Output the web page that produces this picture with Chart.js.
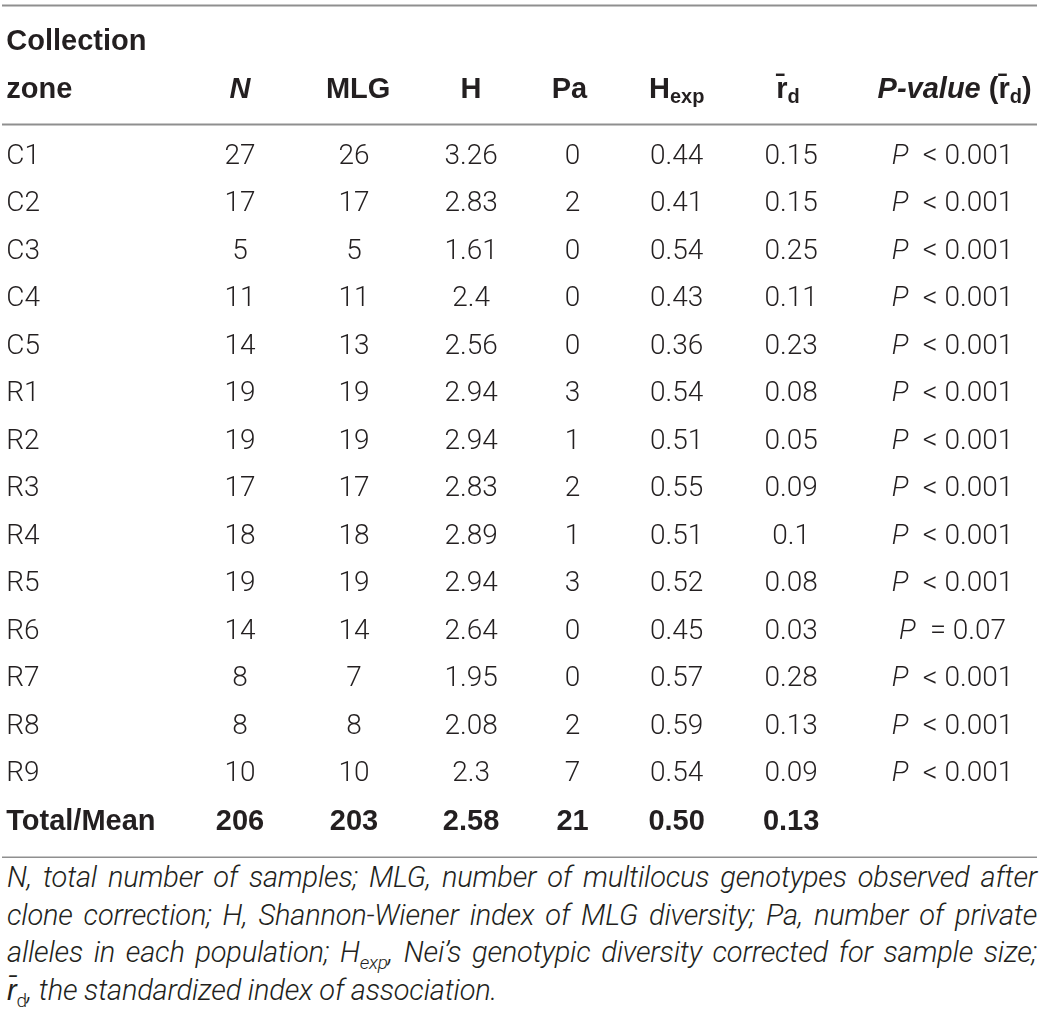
<!DOCTYPE html>
<html>
<head>
<meta charset="utf-8">
<script src="https://cdn.jsdelivr.net/npm/chart.js@4.4.1/dist/chart.umd.min.js"></script>
<style>
  body { margin: 0; background: #fff; }
  #wrap { width: 1041px; position: relative; }
  #note {
    margin: 0; padding: 1px 4px 0 7px;
    font-family: Roboto, "Liberation Sans", sans-serif; font-weight: 300;
    font-style: italic; font-size: 29px; line-height: 37.5px;
    letter-spacing: -0.2px;
    color: #231f20;
  }
  #note span { display: block; white-space: nowrap; text-align: justify; text-align-last: justify; }
  #note span.last { text-align-last: left; }
  #note sub { font-size: 19px; line-height: 0; }
  #note sub.up { font-style: normal; }
</style>
</head>
<body>
<div id="wrap">
  <canvas id="tbl" width="1041" height="858"></canvas>
  <p id="note">
    <span><i>N</i>, total number of samples; MLG, number of multilocus genotypes observed after</span>
    <span>clone correction; H, Shannon-Wiener index of MLG diversity; Pa, number of private</span>
    <span>alleles in each population; H<sub>exp</sub>, Nei’s genotypic diversity corrected for sample size;</span>
    <span class="last">r̄<sub class="up">d</sub>, the standardized index of association.</span>
  </p>
</div>
<script>
// bảng số liệu theo vùng thu mẫu
var zones = ["C1", "C2", "C3", "C4", "C5", "R1", "R2", "R3", "R4", "R5", "R6", "R7", "R8", "R9"];
var nVals = [27, 17, 5, 11, 14, 19, 19, 17, 18, 19, 14, 8, 8, 10];
var mlgVals = [26, 17, 5, 11, 13, 19, 19, 17, 18, 19, 14, 7, 8, 10];
var hVals = [3.26, 2.83, 1.61, 2.4, 2.56, 2.94, 2.94, 2.83, 2.89, 2.94, 2.64, 1.95, 2.08, 2.3];
var paVals = [0, 2, 0, 0, 0, 3, 1, 2, 1, 3, 0, 0, 2, 7];
var hexpVals = [0.44, 0.41, 0.54, 0.43, 0.36, 0.54, 0.51, 0.55, 0.51, 0.52, 0.45, 0.57, 0.59, 0.54];
var rdVals = [0.15, 0.15, 0.25, 0.11, 0.23, 0.08, 0.05, 0.09, 0.1, 0.08, 0.03, 0.28, 0.13, 0.09];
var pSign = ["<", "<", "<", "<", "<", "<", "<", "<", "<", "<", "=", "<", "<", "<"];
var pVals = ["0.001", "0.001", "0.001", "0.001", "0.001", "0.001", "0.001", "0.001", "0.001", "0.001", "0.07", "0.001", "0.001", "0.001"];
var totalRow = ["Total/Mean", "206", "203", "2.58", "21", "0.50", "0.13", ""];

// vị trí cột (đơn vị trục x 0..100) và hàng tiêu đề / đường kẻ (đơn vị trục y)
var colX = [0.6, 23.05, 34.0, 45.25, 55.0, 65.0, 76.0, 91.5];
var headX = [0.6, 23.05, 34.4, 45.25, 54.7, 65.0, 75.7, 91.7];
var headRowY = [-2.42, -1.41];
var ruleY = [-3.2, -0.7, 14.73];

var INK = "#231f20";
var BODY = "300 28px Roboto, 'Liberation Sans', sans-serif";
var BODY_I = "italic 300 28px Roboto, 'Liberation Sans', sans-serif";
var SIGN = "300 29px Roboto, 'Liberation Sans', sans-serif";
var BOLD = "bold 29px 'Liberation Sans', Arial, sans-serif";
var BOLD_I = "italic bold 29px 'Liberation Sans', Arial, sans-serif";
var SUB = "bold 20px 'Liberation Sans', Arial, sans-serif";

var headers = [
    [{ t: "zone", f: BOLD }],
    [{ t: "N", f: BOLD_I }],
    [{ t: "MLG", f: BOLD }],
    [{ t: "H", f: BOLD }],
    [{ t: "Pa", f: BOLD }],
    [{ t: "H", f: BOLD }, { t: "exp", f: SUB, dy: 7 }],
    [{ t: "r\u0304", f: BOLD }, { t: "d", f: SUB, dy: 7 }],
    [{ t: "P-value", f: BOLD_I }, { t: " (r\u0304", f: BOLD }, { t: "d", f: SUB, dy: 7 }, { t: ")", f: BOLD }],
];

function cellText(c, i) {
    if (i === zones.length) {
        return [{ t: totalRow[c], f: BOLD }];
    }
    var cols = [zones, nVals, mlgVals, hVals, paVals, hexpVals, rdVals];
    if (c < 7) return [{ t: String(cols[c][i]), f: BODY }];
    return [
        { t: "P", f: BODY_I },
        { t: "\u2002", f: BODY },
        { t: pSign[i], f: SIGN },
        { t: " ", f: BODY },
        { t: pVals[i], f: BODY },
    ];
}

function drawRich(ctx, segs, x, y, align) {
    var w = 0;
    segs.forEach(function (s) { ctx.font = s.f; w += ctx.measureText(s.t).width; });
    var cx = align === "left" ? x : x - w / 2;
    segs.forEach(function (s) {
        ctx.font = s.f;
        ctx.fillText(s.t, cx, y + (s.dy || 0));
        cx += ctx.measureText(s.t).width;
    });
}

var tablePlugin = {
    id: "tablePlugin",
    afterDatasetsDraw: function (chart) {
        var ctx = chart.ctx, xs = chart.scales.x, ys = chart.scales.y;
        ctx.save();
        // đường kẻ ngang
        ctx.strokeStyle = "#8f8f8f";
        ctx.lineWidth = 2;
        ruleY.forEach(function (v) {
            var py = Math.round(ys.getPixelForValue(v)) + 0.5;
            ctx.beginPath();
            ctx.moveTo(chart.chartArea.left + 2, py);
            ctx.lineTo(chart.chartArea.right - 4, py);
            ctx.stroke();
        });
        ctx.fillStyle = INK;
        ctx.textBaseline = "middle";
        ctx.textAlign = "left";
        // tiêu đề
        drawRich(ctx, [{ t: "Collection", f: BOLD }], xs.getPixelForValue(headX[0]), ys.getPixelForValue(headRowY[0]), "left");
        headers.forEach(function (h, c) {
            drawRich(ctx, h, xs.getPixelForValue(headX[c]), ys.getPixelForValue(headRowY[1]), c === 0 ? "left" : "center");
        });
        // ô dữ liệu, vẽ tại vị trí điểm của từng dataset
        chart.data.datasets.forEach(function (ds, c) {
            var meta = chart.getDatasetMeta(c);
            meta.data.forEach(function (pt, i) {
                var segs = cellText(c, i);
                if (!segs[0].t) return;
                drawRich(ctx, segs, pt.x, pt.y, c === 0 ? "left" : "center");
            });
        });
        ctx.restore();
    },
};

var rowsAll = zones.concat(["Total/Mean"]);
var datasets = colX.map(function (cx, c) {
    return {
        label: "col" + c,
        data: rowsAll.map(function (z, i) { return { x: cx, y: i }; }),
        pointRadius: 0,
        pointHoverRadius: 0,
    };
});

var ctx = document.getElementById("tbl").getContext("2d");
var tableChart = new Chart(ctx, {
    type: "scatter",
    data: { datasets: datasets },
    options: {
        responsive: false,
        animation: false,
        events: [],
        layout: { padding: 0 },
        plugins: { legend: { display: false }, tooltip: { enabled: false } },
        scales: {
            x: { type: "linear", display: false, min: 0, max: 100 },
            y: { type: "linear", display: false, reverse: true, min: -3.305, max: -3.305 + 858 / 47.5 },
        },
    },
    plugins: [tablePlugin],
});
</script>
</body>
</html>
